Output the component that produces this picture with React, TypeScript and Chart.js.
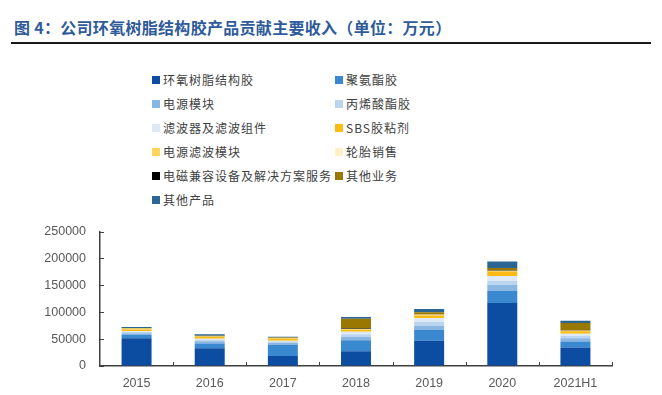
import React, { useEffect, useRef } from "react";
import { Chart, registerables } from "chart.js";

Chart.register(...registerables);

const categories = ["2015", "2016", "2017", "2018", "2019", "2020", "2021H1"];

const epoxyAdhesive = [51500, 33000, 18500, 27500, 47000, 117000, 34500];
const polyurethane = [6000, 9000, 20500, 20500, 20000, 22500, 11000];
const powerModule = [3500, 4000, 4000, 6000, 8000, 11000, 6000];
const acrylate = [2000, 2500, 2500, 5000, 7000, 7500, 4500];
const filterParts = [1500, 2000, 1500, 4500, 7000, 9500, 4000];
const sbsAdhesive = [3500, 3500, 3500, 4000, 5000, 8000, 4500];
const powerFilterModule = [1500, 1000, 1000, 1500, 1500, 1500, 1500];
const tireSales = [0, 0, 0, 0, 0, 0, 0];
const emcServices = [0, 0, 0, 800, 800, 800, 800];
const otherBusiness = [1000, 1000, 1500, 18000, 3500, 4500, 13000];
const otherProducts = [2000, 3000, 1500, 3500, 6000, 12000, 4500];

const yTicks = [0, 50000, 100000, 150000, 200000, 250000];

const seriesNames = [
  "环氧树脂结构胶",
  "聚氨酯胶",
  "电源模块",
  "丙烯酸酯胶",
  "滤波器及滤波组件",
  "SBS胶粘剂",
  "电源滤波模块",
  "轮胎销售",
  "电磁兼容设备及解决方案服务",
  "其他业务",
  "其他产品",
];
const seriesValues = [
  epoxyAdhesive,
  polyurethane,
  powerModule,
  acrylate,
  filterParts,
  sbsAdhesive,
  powerFilterModule,
  tireSales,
  emcServices,
  otherBusiness,
  otherProducts,
];
const seriesColors = [
  "#0C4DA2",
  "#3A88D0",
  "#8AB6E2",
  "#BBD5EE",
  "#DDEAF6",
  "#FBBA14",
  "#FFD65E",
  "#FFF0C8",
  "#000000",
  "#9A7700",
  "#2B6593",
];

const AXIS_COLOR = "#404040";

const inwardTicks = {
  id: "inwardTicks",
  afterDraw(chart: any) {
    const { ctx, chartArea, scales } = chart;
    const y = scales.y;
    ctx.save();
    ctx.strokeStyle = AXIS_COLOR;
    ctx.lineWidth = 1;
    y.ticks.forEach((t: any) => {
      const py = Math.round(y.getPixelForValue(t.value)) + 0.5;
      ctx.beginPath();
      ctx.moveTo(chartArea.left, py);
      ctx.lineTo(chartArea.left + 4, py);
      ctx.stroke();
    });
    const n = categories.length;
    const w = (chartArea.right - chartArea.left) / n;
    for (let i = 1; i <= n; i++) {
      const px = Math.round(chartArea.left + i * w) + 0.5;
      ctx.beginPath();
      ctx.moveTo(px, chartArea.bottom);
      ctx.lineTo(px, chartArea.bottom - 4);
      ctx.stroke();
    }
    ctx.restore();
  },
};

function BarChart() {
  const ref = useRef<HTMLCanvasElement | null>(null);
  useEffect(() => {
    if (!ref.current) return;
    const chart = new Chart(ref.current, {
      type: "bar",
      data: {
        labels: categories,
        datasets: seriesNames.map((name, i) => ({
          label: name,
          data: seriesValues[i],
          backgroundColor: seriesColors[i],
          borderWidth: 0,
          barPercentage: 0.41,
          categoryPercentage: 1,
        })),
      },
      options: {
        animation: false,
        responsive: true,
        maintainAspectRatio: false,
        layout: { padding: { top: 18, right: 50, bottom: 0, left: 0 } },
        plugins: {
          legend: { display: false },
          tooltip: { enabled: false },
          title: { display: false },
        },
        scales: {
          x: {
            stacked: true,
            grid: { display: true, drawOnChartArea: false, drawTicks: false },
            border: { display: true, color: AXIS_COLOR, width: 1.5 },
            ticks: {
              color: "#595959",
              padding: 10,
              font: { family: "'Liberation Sans', Arial, sans-serif", size: 12.5 },
            },
            afterFit(scale: any) {
              scale.height = 29;
            },
          },
          y: {
            stacked: true,
            min: 0,
            max: 250000,
            afterBuildTicks(scale: any) {
              scale.ticks = yTicks.map((v) => ({ value: v }));
            },
            grid: { display: true, drawOnChartArea: false, drawTicks: false },
            border: { display: true, color: AXIS_COLOR, width: 1.5 },
            ticks: {
              color: "#595959",
              padding: 14,
              font: { family: "'Liberation Sans', Arial, sans-serif", size: 12.5 },
              callback: (v: any) => String(v),
            },
            afterFit(scale: any) {
              scale.width = 100;
            },
          },
        },
      },
      plugins: [inwardTicks],
    });
    return () => chart.destroy();
  }, []);
  return <canvas ref={ref} />;
}

export default function App() {
  const legendCols = [152, 335];
  const rowY = [80, 104, 128, 152, 176, 200];
  return (
    <div
      style={{
        position: "fixed",
        left: 0,
        top: 0,
        width: 662,
        height: 395,
        background: "#ffffff",
        overflow: "hidden",
      }}
    >
      <div
        style={{
          position: "absolute",
          left: 14,
          top: 17,
          fontFamily: "'Noto Sans CJK SC', sans-serif",
          fontWeight: 700,
          fontSize: 16,
          letterSpacing: 0.3,
          color: "#2F5B9A",
          lineHeight: "20px",
          whiteSpace: "nowrap",
        }}
      >
        图 4：公司环氧树脂结构胶产品贡献主要收入（单位：万元）
      </div>
      <div
        style={{
          position: "absolute",
          left: 11,
          top: 42,
          width: 640,
          height: 2,
          background: "#1a1a1a",
        }}
      />
      {seriesNames.map((name, i) => {
        const col = i % 2;
        const row = Math.floor(i / 2);
        return (
          <div
            key={name}
            style={{
              position: "absolute",
              left: legendCols[col],
              top: rowY[row] - 9,
              height: 18,
              display: "flex",
              alignItems: "center",
              whiteSpace: "nowrap",
            }}
          >
            <span
              style={{
                display: "inline-block",
                width: 8,
                height: 8,
                background: seriesColors[i],
                marginRight: 3,
              }}
            />
            <span
              style={{
                fontFamily: "'Noto Sans CJK SC', sans-serif",
                fontSize: 12,
                letterSpacing: 1,
                color: "#404040",
                lineHeight: "18px",
              }}
            >
              {name}
            </span>
          </div>
        );
      })}
      <div
        style={{
          position: "absolute",
          left: 0,
          top: 210,
          width: 662,
          height: 185,
        }}
      >
        <BarChart />
      </div>
    </div>
  );
}
